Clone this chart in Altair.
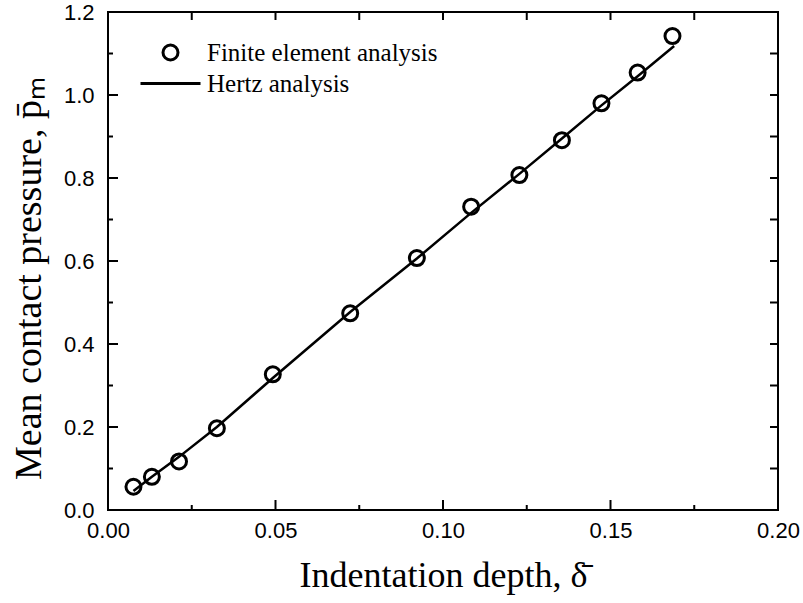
import altair as alt
import pandas as pd

# ---- data ----
fe_depth = [0.0076, 0.0131, 0.0212, 0.0325, 0.0492, 0.0723, 0.0922, 0.1084, 0.1228, 0.1355, 0.1473, 0.1581, 0.1685]
fe_pressure = [0.056, 0.080, 0.117, 0.197, 0.327, 0.474, 0.607, 0.731, 0.807, 0.891, 0.980, 1.054, 1.142]
hertz_depth = [0.0076, 0.0131, 0.0212, 0.0325, 0.0492, 0.0723, 0.0922, 0.1084, 0.1228, 0.1355, 0.1473, 0.1581, 0.1690]
hertz_pressure = [0.046, 0.080, 0.128, 0.200, 0.318, 0.477, 0.606, 0.716, 0.810, 0.895, 0.975, 1.045, 1.118]
series_names = ["Finite element analysis", "Hertz analysis"]
x_major = [0.0, 0.05, 0.10, 0.15, 0.20]
x_minor = [0.025, 0.075, 0.125, 0.175]
y_major = [0.0, 0.2, 0.4, 0.6, 0.8, 1.0, 1.2]
y_minor = [0.1, 0.3, 0.5, 0.7, 0.9, 1.1]

W, H = 670, 498
xs = alt.Scale(domain=[0, 0.2], nice=False, zero=False)
ys = alt.Scale(domain=[0, 1.2], nice=False, zero=False)

fe = pd.DataFrame({"d": fe_depth, "p": fe_pressure, "s": series_names[0]})
hz = pd.DataFrame({"d": hertz_depth, "p": hertz_pressure})

x_axis = alt.Axis(
    values=x_major, format=".2f", ticks=False, tickSize=0, domain=False, grid=False,
    labelFlush=False, labelOverlap=False,
    labelPadding=10, labelFont="Liberation Sans", labelFontSize=22, labelColor="black",
    title="Indentation depth, δ̄", titleFont="Liberation Serif", titleFontSize=36,
    titleFontWeight="normal", titleColor="black", titleX=W / 2, titleY=76,
    titleBaseline="alphabetic", titleAlign="center",
)
y_axis = alt.Axis(
    values=y_major, format=".1f", ticks=False, tickSize=0, domain=False, grid=False,
    labelFlush=False, labelOverlap=False,
    labelPadding=14, labelFont="Liberation Sans", labelFontSize=22, labelColor="black",
    title="Mean contact pressure, p̄ₘ", titleFont="Liberation Serif", titleFontSize=38,
    titleFontWeight="normal", titleColor="black", titleX=-68, titleY=266,
    titleAngle=270, titleBaseline="alphabetic", titleAlign="center",
)

line = alt.Chart(hz).mark_line(color="black", strokeWidth=2.5).encode(
    x=alt.X("d:Q", scale=xs, axis=x_axis),
    y=alt.Y("p:Q", scale=ys, axis=y_axis),
)

points = alt.Chart(fe).mark_point(filled=False, color="black", strokeWidth=3, size=225, opacity=1).encode(
    x=alt.X("d:Q", scale=xs, axis=x_axis),
    y=alt.Y("p:Q", scale=ys, axis=y_axis),
    shape=alt.Shape(
        "s:N",
        scale=alt.Scale(domain=series_names, range=["circle", "M-4,0H4"]),
        legend=alt.Legend(
            title=None, orient="none", legendX=50, legendY=28, padding=0,
            labelFont="Liberation Serif", labelFontSize=25, labelColor="black",
            labelOffset=24, labelLimit=500, rowPadding=5, symbolSize=225, symbolStrokeWidth=3,
            symbolStrokeColor="black", symbolFillColor="transparent",
        ),
    ),
)


def xticks(vals, length, top):
    df = pd.DataFrame({"v": vals})
    if top:
        yy, yy2 = alt.value(0), alt.value(length)
    else:
        yy, yy2 = alt.value(H), alt.value(H - length)
    return alt.Chart(df).mark_rule(color="black", strokeWidth=2).encode(
        x=alt.X("v:Q", scale=xs, axis=x_axis), y=yy, y2=yy2
    )


def yticks(vals, length, right):
    df = pd.DataFrame({"v": vals})
    if right:
        xx, xx2 = alt.value(W), alt.value(W - length)
    else:
        xx, xx2 = alt.value(0), alt.value(length)
    return alt.Chart(df).mark_rule(color="black", strokeWidth=2).encode(
        y=alt.Y("v:Q", scale=ys, axis=y_axis), x=xx, x2=xx2
    )


ticks = [
    xticks(x_major, 10, False), xticks(x_minor, 5, False),
    xticks(x_major, 8, True), xticks(x_minor, 8, True),
    yticks(y_major, 10, False), yticks(y_minor, 5, False),
    yticks(y_major, 8, True), yticks(y_minor, 8, True),
]

chart = alt.layer(line, points, *ticks).properties(
    width=W, height=H,
    autosize=alt.AutoSizeParams(type="none"),
    padding={"left": 108, "top": 12, "right": 803 - 108 - W, "bottom": 603 - 12 - H},
    background="white",
).configure_view(stroke="black", strokeWidth=2)

chart.save("out.html", embed_options={"renderer": "svg", "actions": False})
